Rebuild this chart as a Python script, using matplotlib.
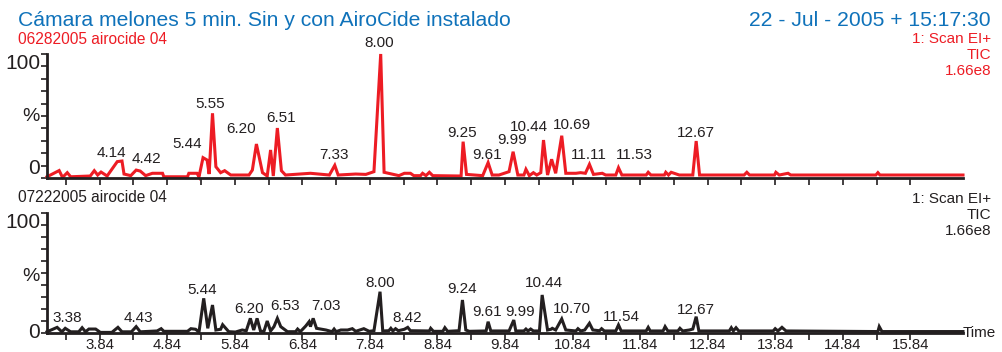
import matplotlib
matplotlib.use("Agg")
import matplotlib.pyplot as plt
import numpy as np

plt.rcParams["font.family"] = ["Liberation Sans", "DejaVu Sans"]

# retention time (min) and relative intensity (%)
TOP_TIME = [3.06, 3.24, 3.29, 3.36, 3.41, 3.70, 3.76, 3.81, 3.86, 3.95,
            4.10, 4.17, 4.20, 4.30, 4.38, 4.44, 4.52, 4.62, 4.77, 4.79,
            5.14, 5.16, 5.28, 5.31, 5.37, 5.43, 5.46, 5.51, 5.56, 5.63,
            5.69, 5.78, 6.05, 6.10, 6.16, 6.25, 6.32, 6.37, 6.41, 6.47,
            6.53, 6.59, 6.96, 7.24, 7.32, 7.37, 7.63, 7.78, 7.90, 8.00,
            8.05, 8.27, 8.35, 8.44, 8.49, 8.59, 8.62, 8.67, 8.72, 8.77,
            9.19, 9.22, 9.27, 9.51, 9.59, 9.65, 9.75, 9.90, 9.96, 10.03,
            10.12, 10.15, 10.20, 10.26, 10.31, 10.37, 10.41, 10.47, 10.53, 10.59,
            10.68, 10.74, 10.89, 10.96, 11.03, 11.09, 11.15, 11.28, 11.33, 11.48,
            11.52, 11.57, 11.93, 11.96, 12.00, 12.20, 12.22, 12.26, 12.30, 12.42,
            12.62, 12.67, 12.72, 13.38, 13.42, 13.46, 13.83, 13.85, 13.90, 14.03,
            14.07, 15.33, 15.36, 15.39, 16.62]
TOP_PCT = [1.0, 6.0, 0.5, 4.3, 1.0, 1.6, 5.9, 2.4, 4.8, 1.6,
           13.2, 13.7, 3.2, 1.9, 6.4, 5.6, 1.9, 3.8, 3.8, 1.0,
           1.0, 3.8, 3.8, 1.0, 16.4, 14.5, 3.2, 52.2, 9.1, 4.3,
           5.9, 2.4, 2.4, 6.4, 27.4, 4.3, 1.6, 22.6, 1.6, 40.3,
           5.9, 2.4, 3.8, 2.4, 10.2, 2.4, 3.2, 2.9, 5.1, 100.0,
           4.6, 1.9, 3.8, 3.8, 1.9, 1.9, 3.8, 1.9, 4.6, 1.9,
           1.6, 29.3, 2.9, 1.9, 12.4, 2.4, 2.4, 5.1, 21.2, 2.4,
           2.4, 7.0, 1.9, 4.3, 2.4, 4.3, 30.6, 2.4, 15.1, 3.8,
           34.1, 3.8, 3.8, 4.3, 3.8, 11.0, 2.9, 3.8, 2.4, 2.4,
           8.3, 2.4, 2.4, 4.6, 2.4, 2.4, 4.6, 2.4, 4.6, 2.4,
           2.4, 29.8, 2.4, 2.4, 4.6, 2.4, 2.4, 4.6, 2.4, 3.8,
           2.4, 2.4, 4.3, 2.4, 2.4]

BOT_TIME = [3.06, 3.21, 3.28, 3.33, 3.41, 3.53, 3.58, 3.63, 3.68, 3.78,
            3.85, 4.02, 4.11, 4.17, 4.31, 4.38, 4.44, 4.69, 4.75, 4.79,
            5.14, 5.19, 5.26, 5.31, 5.38, 5.44, 5.51, 5.56, 5.63, 5.66,
            5.75, 5.85, 5.95, 6.01, 6.07, 6.12, 6.17, 6.22, 6.27, 6.32,
            6.37, 6.42, 6.47, 6.52, 6.62, 6.74, 6.77, 6.81, 6.89, 6.94,
            6.96, 7.00, 7.05, 7.19, 7.28, 7.31, 7.34, 7.41, 7.51, 7.58,
            7.63, 7.75, 7.83, 7.90, 7.99, 8.03, 8.12, 8.15, 8.18, 8.22,
            8.26, 8.35, 8.40, 8.44, 8.72, 8.74, 8.78, 8.92, 8.95, 8.99,
            9.16, 9.21, 9.26, 9.31, 9.56, 9.59, 9.63, 9.90, 9.97, 10.00,
            10.12, 10.15, 10.18, 10.22, 10.26, 10.35, 10.39, 10.47, 10.52, 10.54,
            10.59, 10.68, 10.74, 10.89, 10.92, 10.96, 11.02, 11.09, 11.14, 11.24,
            11.27, 11.31, 11.48, 11.52, 11.56, 11.93, 11.96, 11.99, 12.18, 12.21,
            12.25, 12.40, 12.43, 12.47, 12.57, 12.62, 12.67, 12.71, 13.16, 13.19,
            13.22, 13.26, 13.30, 13.81, 13.84, 13.88, 13.94, 14.00, 15.36, 15.38,
            15.42, 16.62]
BOT_PCT = [1.0, 4.7, 1.0, 3.9, 1.0, 1.0, 4.4, 1.0, 3.3, 3.3,
           0.5, 0.5, 4.7, 1.0, 1.0, 5.3, 1.0, 1.7, 3.6, 1.4,
           1.4, 3.6, 3.1, 0.8, 28.9, 3.9, 23.3, 2.5, 3.1, 6.9,
           1.1, 0.8, 2.5, 1.9, 12.2, 2.5, 12.2, 1.7, 1.1, 10.0,
           1.7, 5.3, 12.2, 5.3, 1.1, 1.1, 3.3, 1.1, 5.8, 9.4,
           5.3, 12.2, 3.9, 2.5, 1.1, 3.3, 1.1, 2.5, 2.5, 3.6,
           1.4, 3.6, 1.4, 1.9, 34.4, 1.7, 1.9, 3.9, 1.7, 3.6,
           1.9, 3.1, 4.7, 1.9, 1.7, 3.9, 1.4, 1.4, 4.4, 1.4,
           1.9, 27.5, 2.5, 1.4, 1.7, 9.4, 1.7, 1.7, 10.8, 1.7,
           1.7, 3.3, 1.7, 3.3, 1.7, 1.7, 31.7, 2.5, 3.1, 3.9,
           2.5, 11.7, 2.5, 1.7, 3.6, 1.7, 2.5, 8.1, 2.5, 1.9,
           3.6, 1.7, 1.7, 6.7, 1.7, 1.7, 4.7, 1.7, 1.7, 5.3,
           1.7, 1.7, 3.9, 1.7, 2.5, 3.3, 13.6, 1.7, 1.7, 4.4,
           1.7, 4.4, 1.7, 1.7, 3.6, 1.7, 4.7, 1.7, 1.2, 5.3,
           1.2, 1.2]

# peak labels and where their text sits (time, %)
TOP_LABELS = ["4.14", "4.42", "5.44", "5.55", "6.20", "6.51", "7.33", "8.00",
              "9.25", "9.61", "9.99", "10.44", "10.69", "11.11", "11.53", "12.67"]
TOP_LABEL_T = [4.02, 4.53, 5.14, 5.48, 5.93, 6.52, 7.31, 7.98,
               9.21, 9.58, 9.95, 10.19, 10.83, 11.08, 11.75, 12.67]
TOP_LABEL_Y = [19.9, 15.1, 27.4, 59.7, 39.3, 48.1, 18.5, 108.6,
               36.6, 18.5, 30.6, 41.4, 42.7, 18.5, 18.5, 36.6]

BOT_LABELS = ["3.38", "4.43", "5.44", "6.20", "6.53", "7.03", "8.00", "8.42",
              "9.24", "9.61", "9.99", "10.44", "10.70", "11.54", "12.67"]
BOT_LABEL_T = [3.36, 4.41, 5.35, 6.05, 6.58, 7.19, 7.99, 8.39,
               9.21, 9.58, 10.06, 10.42, 10.83, 11.56, 12.67]
BOT_LABEL_Y = [12.2, 12.2, 35.8, 19.7, 22.5, 22.5, 41.9, 12.2,
               36.4, 17.8, 17.8, 41.4, 19.7, 13.6, 19.2]

TICK_LABELS = ["3.84", "4.84", "5.84", "6.84", "7.84", "8.84", "9.84",
               "10.84", "11.84", "12.84", "13.84", "14.84", "15.84"]

RED = "#ed1c24"
BLUE = "#0f72ba"
DARK = "#231f20"

W, H = 1002, 352
fig = plt.figure(figsize=(W / 100, H / 100), dpi=100)


def ftext(x, y, s, **kw):
    fig.text(x / W, 1 - y / H, s, va="center", **kw)


ax_top = fig.add_axes([47 / W, 1 - 178 / H, 916 / W, 124 / H])
ax_bot = fig.add_axes([47 / W, 1 - 333 / H, 916 / W, 120 / H])

ax_top.plot(TOP_TIME, TOP_PCT, color=RED, lw=2.2, solid_joinstyle="miter", clip_on=False)
ax_bot.plot(BOT_TIME, BOT_PCT, color=DARK, lw=2.2, solid_joinstyle="miter", clip_on=False)

for ax, labels, lt, ly in [(ax_top, TOP_LABELS, TOP_LABEL_T, TOP_LABEL_Y),
                           (ax_bot, BOT_LABELS, BOT_LABEL_T, BOT_LABEL_Y)]:
    for s, t, y in zip(labels, lt, ly):
        ax.text(t, y, s, ha="center", va="center", fontsize=11, color=DARK, clip_on=False)

major = [float(s) for s in TICK_LABELS]
minor = np.array(major) - 0.5
for ax in (ax_top, ax_bot):
    ax.set_xlim(3.06, 16.62)
    ax.set_ylim(0, 100)
    for side in ("top", "right"):
        ax.spines[side].set_visible(False)
    for side in ("left", "bottom"):
        ax.spines[side].set_linewidth(2)
        ax.spines[side].set_color(DARK)
    ax.set_xticks(major)
    ax.set_xticks(minor, minor=True)
    ax.set_yticks([0, 100])
    ax.set_yticks(np.arange(10, 100, 10), minor=True)
    ax.tick_params(axis="x", which="both", direction="out", length=5, width=1.2,
                   color=DARK, pad=-1.5, labelsize=10.8, labelcolor=DARK)
    ax.tick_params(axis="y", which="both", direction="out", length=4, width=1.2,
                   color=DARK, pad=1, labelsize=15, labelcolor=DARK)
    ax.set_yticklabels(["0", "100"])
    ax.set_ylabel("%", rotation=0, fontsize=14, color=DARK, ha="center", va="center")
    ax.patch.set_visible(False)

ax_top.tick_params(axis="x", labelbottom=False)
ax_bot.set_xticklabels(TICK_LABELS)

ax_top.get_yticklabels()[0].set_va("bottom")
ax_top.get_yticklabels()[1].set_va("top")
ax_bot.get_yticklabels()[0].set_va("center")
ax_bot.get_yticklabels()[1].set_va("top")
ax_top.yaxis.set_label_coords(-0.0175, 0.494)
ax_bot.yaxis.set_label_coords(-0.0175, 0.469)

ax_bot.text(1.0, 0.0, "Time", transform=ax_bot.transAxes, ha="left", va="center",
            fontsize=11, color=DARK)

ftext(18, 20, "Cámara melones 5 min. Sin y con AiroCide instalado", fontsize=15.2, color=BLUE)
ftext(991, 20, "22 - Jul - 2005 + 15:17:30", fontsize=15.2, color=BLUE, ha="right")
ftext(18, 39, "06282005 airocide 04", fontsize=11.2, color=RED)
ftext(991, 39, "1: Scan EI+", fontsize=11, color=RED, ha="right")
ftext(991, 55, "TIC", fontsize=11, color=RED, ha="right")
ftext(991, 71, "1.66e8", fontsize=11, color=RED, ha="right")
ftext(18, 197, "07222005 airocide 04", fontsize=11.2, color=DARK)
ftext(991, 199, "1: Scan EI+", fontsize=11, color=DARK, ha="right")
ftext(991, 215, "TIC", fontsize=11, color=DARK, ha="right")
ftext(991, 231, "1.66e8", fontsize=11, color=DARK, ha="right")

fig.savefig("out.png", dpi=100)
